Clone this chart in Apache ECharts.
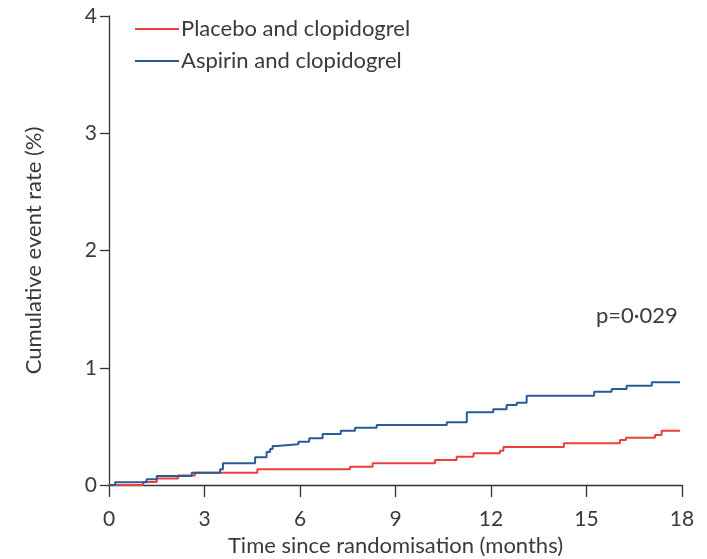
<!DOCTYPE html>
<html><head><meta charset="utf-8">
<script src="https://cdn.jsdelivr.net/npm/echarts@6/dist/echarts.min.js"></script>
<style>html,body{margin:0;padding:0;background:#fff}#c{width:707px;height:559px}</style>
</head><body><div id="c"></div>
<script>
var seriesNames = ['Placebo and clopidogrel', 'Aspirin and clopidogrel'];
var xTicks = [0, 3, 6, 9, 12, 15, 18];
var yTicks = [0, 1, 2, 3, 4];
// [months, cumulative event rate %]
var placebo = [[0,0],[1.07,0.025],[1.5,0.055],[2.17,0.08],[2.7,0.105],[4.66,0.134],[7.57,0.156],[8.28,0.185],[10.24,0.213],[10.92,0.241],[11.45,0.27],[12.28,0.293],[12.39,0.325],[14.29,0.356],[16.05,0.384],[16.24,0.403],[17.15,0.426],[17.36,0.463],[17.94,0.463]];
var aspirin = [[0,0],[0.19,0.023],[1.18,0.049],[1.5,0.077],[2.6,0.105],[3.49,0.134],[3.58,0.185],[4.59,0.236],[4.95,0.281],[5.06,0.307],[5.14,0.333],[5.27,0.347],[5.95,0.369],[6.29,0.398],[6.71,0.435],[7.28,0.463],[7.73,0.489],[8.41,0.512],[10.61,0.535],[11.24,0.62],[12.07,0.646],[12.49,0.682],[12.81,0.702],[13.12,0.762],[15.24,0.796],[15.79,0.819],[16.26,0.847],[17.05,0.876],[17.94,0.876]];
var pText = 'p=0·029';

var font = 'Lato';
var chart = echarts.init(document.getElementById('c'));
chart.setOption({
  animation: false,
  grid: {left: 109, right: 25, top: 16, bottom: 74, containLabel: false, outerBoundsMode: 'none'},
  legend: {
    orient: 'vertical', left: 130, top: 13, itemWidth: 44, itemHeight: 2, itemGap: 10,
    icon: 'rect',
    textStyle: {fontFamily: font, fontSize: 22, color: '#3a3a3a', padding: [0,0,0,-3]},
    data: seriesNames
  },
  xAxis: {
    type: 'value', min: 0, max: 18, interval: 3,
    name: 'Time since randomisation (months)', nameLocation: 'middle', nameGap: 50,
    nameTextStyle: {fontFamily: font, fontSize: 22, color: '#3a3a3a'},
    axisLine: {show: true, lineStyle: {color: '#333', width: 1.3}},
    axisTick: {show: true, length: 12, lineStyle: {color: '#333', width: 1.3}},
    axisLabel: {fontFamily: font, fontSize: 21, color: '#3a3a3a', margin: 24},
    splitLine: {show: false}
  },
  yAxis: {
    type: 'value', min: 0, max: 4, interval: 1,
    name: 'Cumulative event rate (%)', nameLocation: 'middle', nameGap: 64,
    nameTextStyle: {fontFamily: font, fontSize: 22, color: '#3a3a3a'},
    axisLine: {show: true, lineStyle: {color: '#333', width: 1.3}},
    axisTick: {show: true, length: 9, lineStyle: {color: '#333', width: 1.3}},
    axisLabel: {fontFamily: font, fontSize: 21, color: '#3a3a3a', margin: 12},
    splitLine: {show: false}
  },
  series: [
    {name: seriesNames[0], type: 'line', step: 'end', data: placebo, showSymbol: false,
     lineStyle: {color: '#e8403f', width: 2}, itemStyle: {color: '#e8403f'}},
    {name: seriesNames[1], type: 'line', step: 'end', data: aspirin, showSymbol: false,
     lineStyle: {color: '#2a5b94', width: 2}, itemStyle: {color: '#2a5b94'}}
  ],
  graphic: [{type: 'text', left: 596, top: 305, style: {text: pText, fontFamily: font, fontSize: 22, fill: '#3a3a3a'}}]
});
</script></body></html>
